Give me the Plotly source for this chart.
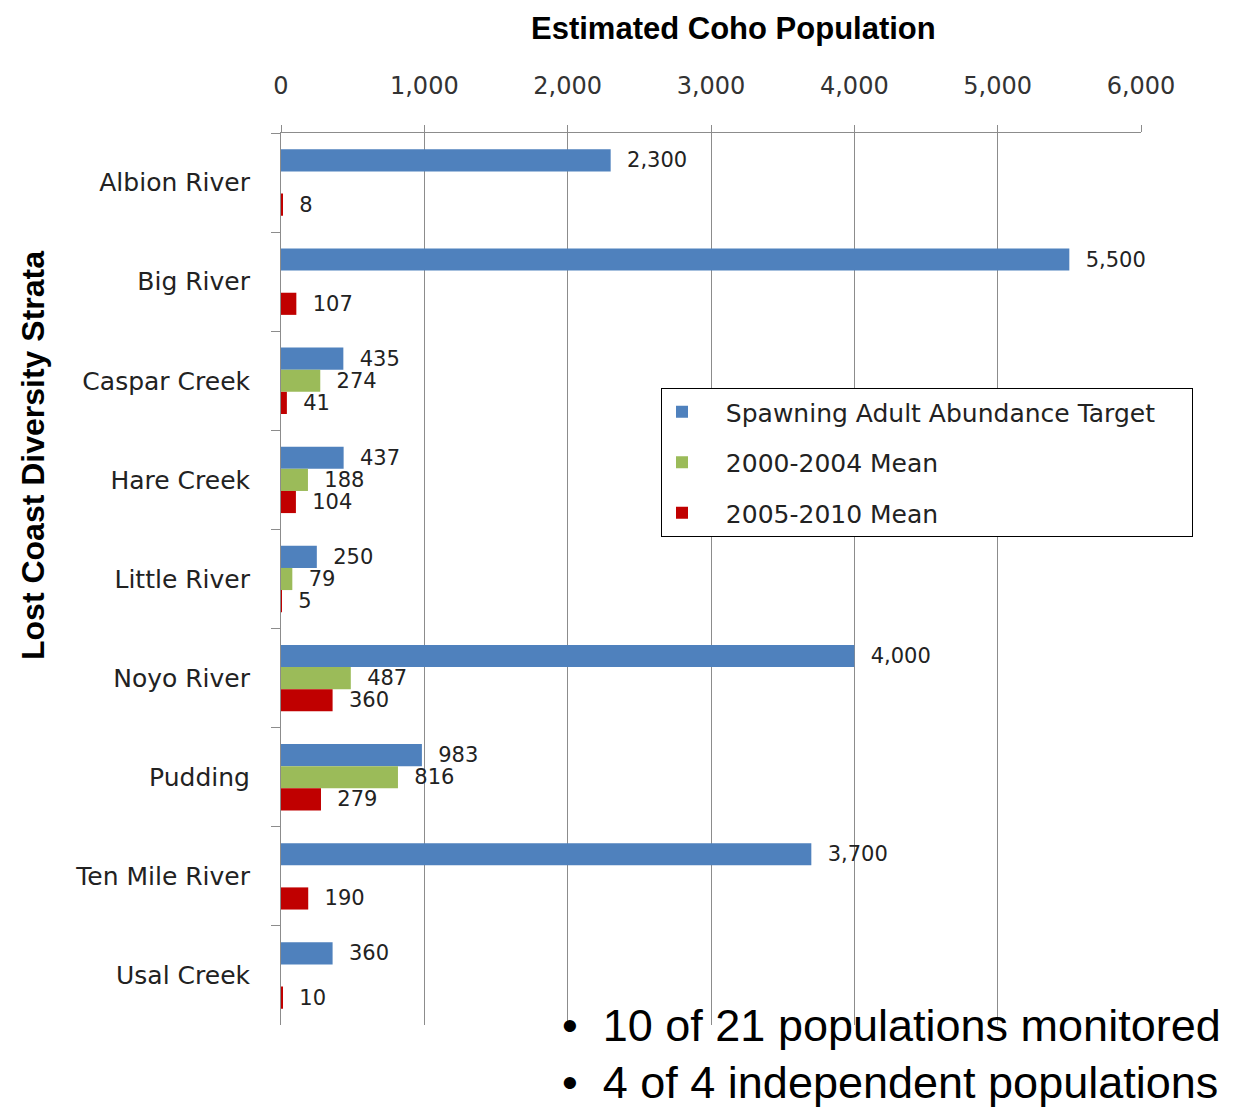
import plotly.graph_objects as go

# rivers, top to bottom
strata = ["Albion River", "Big River", "Caspar Creek", "Hare Creek", "Little River",
          "Noyo River", "Pudding", "Ten Mile River", "Usal Creek"]

target = [2300, 5500, 435, 437, 250, 4000, 983, 3700, 360]
mean_2000_2004 = [None, None, 274, 188, 79, 487, 816, None, None]
mean_2005_2010 = [8, 107, 41, 104, 5, 360, 279, 190, 10]

series_names = ["Spawning Adult Abundance Target", "2000-2004 Mean", "2005-2010 Mean"]
series_colors = ["#4F81BD", "#9BBB59", "#C00000"]

x_ticks = [0, 1000, 2000, 3000, 4000, 5000, 6000]

label_font = "DejaVu Sans, Verdana, sans-serif"
head_font = "Liberation Sans, Arial, sans-serif"
pad = "\u00a0"

fig = go.Figure()
for name, vals, col in zip(series_names, [target, mean_2000_2004, mean_2005_2010], series_colors):
    fig.add_trace(go.Bar(
        y=strata, x=vals, name=pad * 3 + name + pad * 4, orientation="h",
        marker=dict(color=col, line=dict(width=0)),
        texttemplate=pad * 2 + "%{x:,}", textposition="outside", cliponaxis=False,
        constraintext="none",
        textfont=dict(family=label_font, size=21, color="#222222"),
        legendgroup=name,
    ))

W, H = 1253, 1115
OFF = 8  # page body margin
pw, ph = 860, 892
ml, mt = 281 - OFF, 133 - OFF
mr, mb = W - ml - pw, H - mt - ph

def px(x):
    return (x - OFF - ml) / pw
def py(y):
    return (H - mb - (y - OFF)) / ph

fig.update_layout(
    width=W, height=H,
    margin=dict(l=ml, r=mr, t=mt, b=mb),
    plot_bgcolor="white", paper_bgcolor="white",
    barmode="group", bargap=0.33, bargroupgap=0,
    font=dict(family=label_font, color="#222222"),
    legend=dict(
        x=px(661), y=py(388),
        xanchor="left", yanchor="top",
        bordercolor="black", borderwidth=1, bgcolor="white",
        font=dict(family=label_font, size=25, color="#222222"),
        traceorder="grouped", tracegroupgap=15,
    ),
    showlegend=True,
)

fig.update_xaxes(
    side="top", range=[0, 6000], tickvals=x_ticks, tickformat=",",
    showgrid=True, gridcolor="#8C8C8C", gridwidth=1, zeroline=False,
    showline=True, linecolor="#8C8C8C", linewidth=1,
    ticks="outside", ticklen=7, tickcolor="#8C8C8C",
    tickfont=dict(family=label_font, size=24, color="#333333"),
    ticklabelstandoff=21,
)
fig.update_yaxes(
    autorange="reversed", type="category",
    showgrid=False, showline=True, linecolor="#8C8C8C", linewidth=1,
    ticks="outside", ticklen=9, tickcolor="#8C8C8C", tickson="boundaries",
    tickfont=dict(family=label_font, size=25, color="#222222"),
    ticklabelstandoff=25,
)

fig.add_annotation(
    text="<b>Estimated Coho Population</b>", x=px(733), y=py(28),
    xref="paper", yref="paper", showarrow=False, xanchor="center", yanchor="middle",
    font=dict(family=head_font, size=31, color="black"),
)
fig.add_annotation(
    text="<b>Lost Coast Diversity Strata</b>", x=px(33), y=py(455),
    xref="paper", yref="paper", showarrow=False, textangle=-90,
    xanchor="center", yanchor="middle",
    font=dict(family=head_font, size=32, color="black"),
)
fig.add_annotation(
    text="•  10 of 21 populations monitored", x=px(560), y=py(1025),
    xref="paper", yref="paper", showarrow=False, xanchor="left", yanchor="middle",
    font=dict(family=head_font, size=45, color="black"),
)
fig.add_annotation(
    text="•  4 of 4 independent populations", x=px(560), y=py(1082),
    xref="paper", yref="paper", showarrow=False, xanchor="left", yanchor="middle",
    font=dict(family=head_font, size=45, color="black"),
)
# slide edge on the right
fig.add_shape(type="line", xref="paper", yref="paper",
              x0=px(1246), x1=px(1246), y0=py(OFF), y1=py(H),
              line=dict(color="#808080", width=2))

fig.write_html("out.html")
